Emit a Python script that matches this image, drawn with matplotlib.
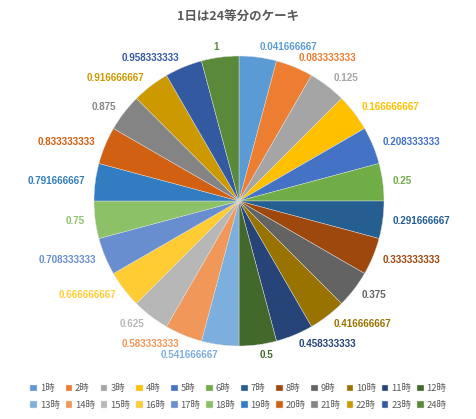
import matplotlib
matplotlib.use("Agg")
import matplotlib.pyplot as plt

# 24 equal slices, one per hour
hours = [f"{h}時" for h in range(1, 25)]
sizes = [1] * 24
values = [h / 24 for h in range(1, 25)]
labels = [f"{v:.9f}".rstrip("0").rstrip(".") for v in values]

colors = [
    "#5B9BD5", "#ED7D31", "#A5A5A5", "#FFC000", "#4472C4", "#70AD47",
    "#255E91", "#9E480E", "#636363", "#997300", "#264478", "#43682B",
    "#7CAFDD", "#F1975A", "#B7B7B7", "#FFCD33", "#698ED0", "#8CC168",
    "#327DC2", "#D26012", "#848484", "#CC9A00", "#335AA1", "#5A8A39",
]

plt.rcParams["font.family"] = ["Noto Sans CJK JP", "DejaVu Sans"]

fig = plt.figure(figsize=(4.77, 4.19), dpi=100)
W, H = 477, 419
cx, cy, r = 239, 201, 145
ax = fig.add_axes([(cx - r) / W, (H - cy - r) / H, 2 * r / W, 2 * r / H])

wedges, texts = ax.pie(sizes, colors=colors, startangle=90, counterclock=False,
                       labels=labels, labeldistance=1.07,
                       wedgeprops=dict(linewidth=0.3, edgecolor="#e0e0e0"),
                       textprops=dict(fontsize=7.1, fontweight="bold",
                                      family=["Liberation Sans", "DejaVu Sans"]))
for t, c in zip(texts, colors):
    t.set_color(c)
    t.set_clip_on(False)
ax.set_xlim(-1, 1)
ax.set_ylim(-1, 1)
ax.set_aspect("equal")

fig.text(0.5, 1 - 16 / H, "1日は24等分のケーキ", ha="center", va="center",
         fontsize=9, fontweight="bold", color="#595959")

# row 1 = 1..12, row 2 = 13..24 (legend fills column by column)
order = []
for i in range(12):
    order += [i, i + 12]
leg = fig.legend([wedges[i] for i in order], [hours[i] for i in order],
                 loc="center", bbox_to_anchor=(0.5, 1 - 397 / H), ncol=12,
                 frameon=False, fontsize=6.8, handlelength=0.7, handleheight=0.7,
                 handletextpad=0.3, columnspacing=0.6, labelspacing=0.75,
                 borderpad=0)
for t in leg.get_texts():
    t.set_color("#595959")

fig.savefig("out.png", dpi=100)
